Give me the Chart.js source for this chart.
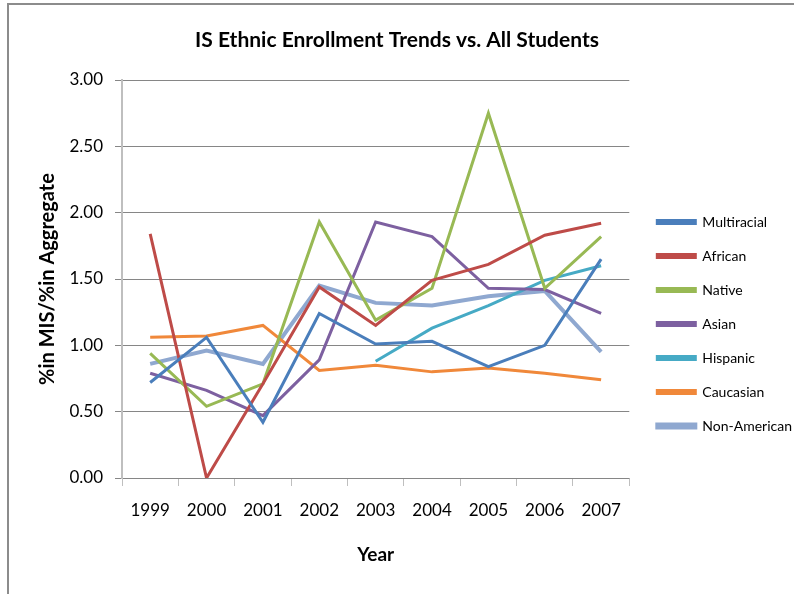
<!DOCTYPE html>
<html>
<head>
<meta charset="utf-8">
<script src="https://cdn.jsdelivr.net/npm/chart.js@4.4.1/dist/chart.umd.min.js"></script>
<style>
  html, body { margin: 0; padding: 0; background: #fff; }
  #wrap { position: relative; width: 794px; height: 594px; }
  #frame { position: absolute; left: 7px; top: 3px; right: -4px; bottom: -4px;
           border-left: 2px solid #8c8c8c; border-top: 2px solid #8c8c8c; }
  canvas { position: absolute; left: 0; top: 0; }
</style>
</head>
<body>
<div id="wrap">
  <div id="frame"></div>
  <canvas id="myChart" width="794" height="594"></canvas>
</div>
<script>
// categories
const years = ['1999', '2000', '2001', '2002', '2003', '2004', '2005', '2006', '2007']

// series values
const multiracial  = [0.72, 1.06, 0.42, 1.24, 1.01, 1.03, 0.84, 1.00, 1.65]
const african      = [1.84, 0.00, 0.71, 1.44, 1.15, 1.49, 1.61, 1.83, 1.92]
const native       = [0.94, 0.54, 0.71, 1.93, 1.19, 1.43, 2.75, 1.43, 1.82]
const asian        = [0.79, 0.66, 0.47, 0.89, 1.93, 1.82, 1.43, 1.42, 1.24]
const hispanic     = [null, null, null, null, 0.88, 1.13, 1.30, 1.49, 1.60]
const caucasian    = [1.06, 1.07, 1.15, 0.81, 0.85, 0.80, 0.83, 0.79, 0.74]
const nonAmerican  = [0.86, 0.96, 0.86, 1.45, 1.32, 1.30, 1.37, 1.41, 0.95]

const seriesNames  = ['Multiracial', 'African', 'Native', 'Asian', 'Hispanic', 'Caucasian', 'Non-American']
const seriesData   = [multiracial, african, native, asian, hispanic, caucasian, nonAmerican]
const seriesColors = ['#4a7ebb', '#be4b48', '#98b954', '#7d60a0', '#46aac5', '#f0883a', '#8fa8d0']

const FONT = 'Lato, "Open Sans", sans-serif'

const datasets = seriesNames.map((name, i) => ({
  label: name,
  data: seriesData[i],
  borderColor: seriesColors[i],
  backgroundColor: seriesColors[i],
  borderWidth: name === 'Non-American' ? 4 : 3,
  pointRadius: 0,
  tension: 0,
  spanGaps: false
}))

// nudge the legend to where Excel put it
const legendShift = {
  id: 'legendShift',
  afterLayout(chart) {
    const lg = chart.legend
    lg.left += 8; lg.right += 8
    lg.top += 27; lg.bottom += 27
  }
}

new Chart(document.getElementById('myChart'), {
  type: 'line',
  data: { labels: years, datasets },
  options: {
    responsive: false,
    animation: false,
    layout: { padding: 0 },
    plugins: {
      title: {
        display: true,
        text: 'IS Ethnic Enrollment Trends vs. All Students',
        color: '#000',
        font: { family: FONT, size: 21, weight: 'bold' },
        padding: { top: 27.4, bottom: 27.4 }
      },
      legend: {
        position: 'right',
        labels: {
          color: '#000',
          font: { family: FONT, size: 14 },
          boxWidth: 38,
          boxHeight: 3,
          padding: 20
        }
      },
      tooltip: { enabled: false }
    },
    scales: {
      x: {
        offset: true,
        grid: { display: true, drawOnChartArea: false, offset: true, tickLength: 8, tickColor: '#bfbfbf' },
        border: { display: false },
        ticks: { color: '#000', font: { family: FONT, size: 17 }, padding: 14, maxRotation: 0 },
        title: {
          display: true, text: 'Year', color: '#000',
          font: { family: FONT, size: 19, weight: 'bold' },
          padding: { top: 4, bottom: 27.6 }
        },
        afterFit(scale) { scale.height = 116 }
      },
      y: {
        min: 0, max: 3,
        ticks: {
          stepSize: 0.5, color: '#000', padding: 12,
          font: { family: FONT, size: 17 },
          callback: v => v.toFixed(2)
        },
        grid: { color: '#868686', tickColor: '#868686', tickLength: 7 },
        border: { display: true, color: '#bfbfbf', width: 2 },
        title: {
          display: true, text: '%in MIS/%in Aggregate', color: '#000',
          font: { family: FONT, size: 20, weight: 'bold' },
          padding: { top: 36, bottom: 4 }
        },
        afterFit(scale) { scale.width = 122 }
      }
    }
  },
  plugins: [legendShift]
})
</script>
</body>
</html>
